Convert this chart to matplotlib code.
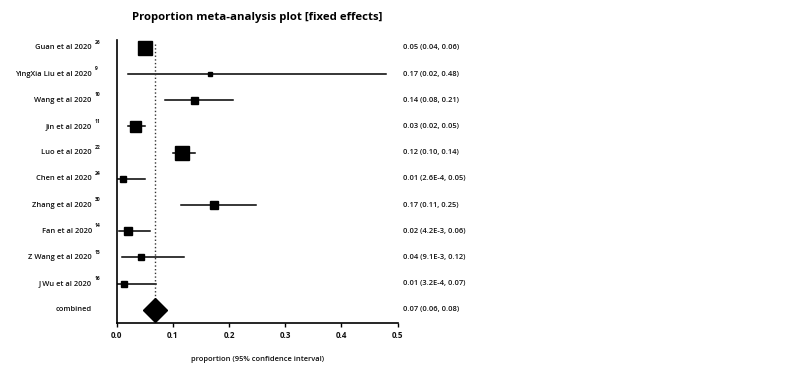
import numpy as np
import matplotlib.pyplot as plt

# study data
studies = ['Guan et al 2020', 'YingXia Liu et al 2020', 'Wang et al 2020', 'Jin et al 2020',
           'Luo et al 2020', 'Chen et al 2020', 'Zhang et al 2020', 'Fan et al 2020',
           'Z Wang et al 2020', 'J Wu et al 2020']
refs = ['26', '9', '10', '11', '22', '24', '30', '14', '15', '16']
est = [0.05, 0.166, 0.137, 0.032, 0.116, 0.011, 0.173, 0.02, 0.043, 0.012]
lo = [0.04, 0.02, 0.085, 0.02, 0.10, 0.00026, 0.115, 0.0042, 0.0091, 0.00032]
hi = [0.06, 0.48, 0.207, 0.05, 0.14, 0.05, 0.248, 0.06, 0.12, 0.07]
weights = [14, 4.5, 7, 11, 14, 6, 7.5, 7.5, 6.5, 6]
ci_text = ['0.05 (0.04, 0.06)', '0.17 (0.02, 0.48)', '0.14 (0.08, 0.21)', '0.03 (0.02, 0.05)',
           '0.12 (0.10, 0.14)', '0.01 (2.6E-4, 0.05)', '0.17 (0.11, 0.25)', '0.02 (4.2E-3, 0.06)',
           '0.04 (9.1E-3, 0.12)', '0.01 (3.2E-4, 0.07)']
pooled = 0.068
pooled_text = '0.07 (0.06, 0.08)'

plt.rcParams['font.family'] = ['Open Sans', 'DejaVu Sans']

fig = plt.figure(figsize=(8, 3.84), dpi=100)
ax = fig.add_axes([0.146, 0.159, 0.351, 0.737])

y = np.arange(len(studies))
for i in range(len(studies)):
    ax.plot([lo[i], hi[i]], [y[i], y[i]], color='black', lw=1.1)
    ax.plot(est[i], y[i], marker='s', color='black', markersize=weights[i] * 0.72, linestyle='none')

yc = len(studies)
ax.plot([pooled, pooled], [-0.15, yc], color='#333333', lw=1.0, linestyle=':')
ax.plot(pooled, yc, marker='D', color='black', markersize=12, linestyle='none')

lab_x = (92 - 117) / 281
sup_x = (95 - 117) / 281
txt_x = (403 - 117) / 281
tc = '#111111'
for i in range(len(studies)):
    ax.text(lab_x, y[i], studies[i], transform=ax.get_yaxis_transform(), ha='right', va='center',
            fontsize=5.4, fontweight='semibold', color=tc)
    ax.text(sup_x, y[i] - 0.2, refs[i], transform=ax.get_yaxis_transform(), ha='left', va='center',
            fontsize=3.6, fontweight='bold', color=tc)
    ax.text(txt_x, y[i], ci_text[i], transform=ax.get_yaxis_transform(), ha='left', va='center',
            fontsize=5.4, fontweight='semibold', color=tc)
ax.text(lab_x, yc, 'combined', transform=ax.get_yaxis_transform(), ha='right', va='center',
        fontsize=5.4, fontweight='semibold', color=tc)
ax.text(txt_x, yc, pooled_text, transform=ax.get_yaxis_transform(), ha='left', va='center',
        fontsize=5.4, fontweight='semibold', color=tc)

ax.set_xlim(0, 0.5)
ax.set_ylim(yc + 0.5, -0.3)
ax.set_xticks([0, 0.1, 0.2, 0.3, 0.4, 0.5])
ax.set_xticklabels(['0.0', '0.1', '0.2', '0.3', '0.4', '0.5'], fontsize=5.8, fontweight='bold', color=tc)
ax.set_yticks([])
ax.tick_params(axis='x', length=3, width=1, pad=3)
ax.spines['top'].set_visible(False)
ax.spines['right'].set_visible(False)
ax.spines['left'].set_linewidth(1.2)
ax.spines['bottom'].set_linewidth(1.2)
ax.set_xlabel('proportion (95% confidence interval)', fontsize=5.4, fontweight='semibold', color=tc, labelpad=11)

fig.text(0.321, 0.955, 'Proportion meta-analysis plot [fixed effects]', ha='center', va='center',
         fontsize=8.2, fontweight='bold')

plt.savefig('out.png', dpi=100)
